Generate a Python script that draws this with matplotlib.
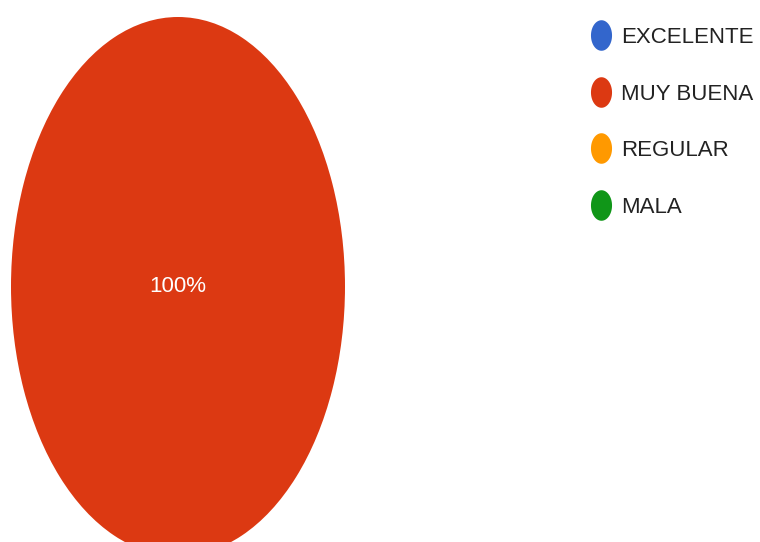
import matplotlib
matplotlib.use("Agg")
import matplotlib.pyplot as plt
import numpy as np
from matplotlib.path import Path
from matplotlib.lines import Line2D

categories = ["EXCELENTE", "MUY BUENA", "REGULAR", "MALA"]
values = [0, 100, 0, 0]
colors = ["#3366CC", "#DC3912", "#FF9900", "#109618"]

plt.rcParams['font.family'] = ['Liberation Sans', 'DejaVu Sans']

W, H = 760, 542
fig = plt.figure(figsize=(W / 100, H / 100), dpi=100)
fig.patch.set_facecolor("white")

# pie axes (stretched ellipse, bottom clipped by figure edge)
ax = fig.add_axes([11 / W, (H - 556) / H, 334 / W, 539 / H])

def fmt(p):
    return f"{p:.0f}%" if p > 0 else ""

wedges, texts, autotexts = ax.pie(values, colors=colors, startangle=90, counterclock=False,
                                  autopct=fmt, pctdistance=0.0,
                                  wedgeprops=dict(linewidth=0),
                                  textprops=dict(color="white", fontsize=16))
ax.set_aspect('auto')
ax.set_xlim(-1, 1)
ax.set_ylim(-1, 1)
ax.axis('off')

# ellipse marker for legend
t = np.linspace(0, 2 * np.pi, 64)
ell = Path(np.column_stack([np.cos(t), 1.45 * np.sin(t)]), closed=True)
handles = [Line2D([], [], linestyle='none', marker=ell, markersize=22,
                  markerfacecolor=c, markeredgewidth=0) for c in colors]
leg = fig.legend(handles, categories, loc='upper left',
                 bbox_to_anchor=(590 / W, 1 - 27 / H), frameon=False,
                 fontsize=16, labelspacing=1.6, handlelength=1.0,
                 handletextpad=0.4, borderpad=0, borderaxespad=0)
for txt in leg.get_texts():
    txt.set_color("#222222")

fig.savefig("out.png", dpi=100, facecolor="white")
